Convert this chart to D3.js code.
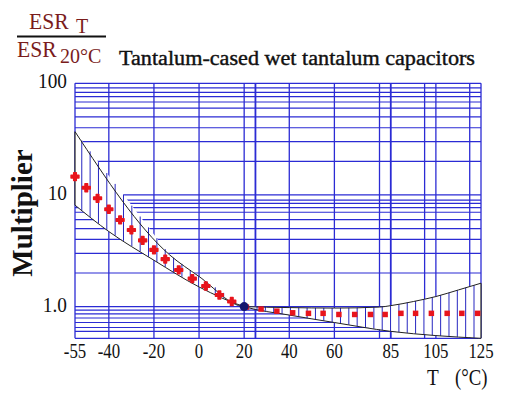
<!DOCTYPE html>
<html>
<head>
<meta charset="utf-8">
<script src="https://cdn.jsdelivr.net/npm/d3@7"></script>
<style>
  body { margin: 0; background: #fff; }
  svg { display: block; }
</style>
</head>
<body>
<div id="chart"></div>
<script>
// temperature ticks and grid
var xTicks = [-55, -40, -20, 0, 20, 40, 60, 85, 105, 125];
var xGrid = [-55, -40, -20, 0, 20, 25, 40, 60, 80, 85, 100, 105, 120, 125];
var yTicks = [100, 10, 1];
var yTickLabels = ["100", "10", "1.0"];
var yGrid = [100, 91, 83, 76, 68, 60, 50, 40, 30, 20,
             10, 9, 8.4, 7.7, 7, 6, 5, 4, 3, 2, 1,
             0.93, 0.86, 0.79, 0.72, 0.65, 0.6, 0.52];

// tolerance band (upper / lower limits)
var upperT = [-55, -13, 0, 20, 40, 60, 80, 85, 95, 105, 115, 125];
var upperV = [36.9, 2.9, 1.86, 1.0, 0.98, 0.97, 0.99, 1.02, 1.11, 1.23, 1.41, 1.62];
var lowerT = [-55, -40, -20, 0, 20, 40, 60, 85, 105, 125];
var lowerV = [8.1, 4.7, 2.6, 1.5, 1.0, 0.84, 0.72, 0.6, 0.55, 0.52];

// typical values (red dots)
var typT = [-55, -50, -45, -40, -35, -30, -25, -20, -15, -9, -3, 3, 9, 14.5,
            21, 27.5, 34.5, 41.5, 48.5, 55, 62, 69, 76, 82.5, 89.5, 96, 103, 110, 116.5, 123.5];
var typV = [14.6, 11.6, 9.33, 7.44, 5.97, 4.86, 3.92, 3.22, 2.66, 2.13, 1.78, 1.53, 1.27, 1.11,
            0.99, 0.95, 0.91, 0.88, 0.87, 0.87, 0.85, 0.85, 0.85, 0.85, 0.87, 0.87, 0.87, 0.87, 0.87, 0.87];

var width = 512, height = 394;
var gridColor = "#2b2bd4";
var serif = "'Liberation Serif', 'Times New Roman', serif";

var svg = d3.select("#chart").append("svg")
  .attr("width", width)
  .attr("height", height);

var x = d3.scaleLinear().domain([-55, 125]).range([75, 481]);
var y = d3.scaleLog().domain([0.52, 100]).range([338.3, 83.3]);

// grid
svg.append("g").selectAll("line")
  .data(yGrid)
  .enter().append("line")
  .attr("x1", x(-55)).attr("x2", x(125))
  .attr("y1", function(d) { return y(d); })
  .attr("y2", function(d) { return y(d); })
  .style("stroke", gridColor)
  .style("stroke-width", 1.2);

svg.append("g").selectAll("line")
  .data(xGrid)
  .enter().append("line")
  .attr("y1", y(100)).attr("y2", y(0.52))
  .attr("x1", function(d) { return x(d); })
  .attr("x2", function(d) { return x(d); })
  .style("stroke", gridColor)
  .style("stroke-width", function(d) { return (d == 25 || d == 85) ? 1.8 : 1.3; });

// band: white fill, hatch, outline
var upperFn = d3.scaleLinear().domain(upperT).range(upperT.map(function(t, i) { return Math.log10(upperV[i]); }));
var lowerFn = d3.scaleLinear().domain(lowerT).range(lowerT.map(function(t, i) { return Math.log10(lowerV[i]); }));

var samples = d3.range(-55, 125.01, 0.5);
var area = d3.area()
  .x(function(d) { return x(d); })
  .y0(function(d) { return y(Math.pow(10, lowerFn(d))); })
  .y1(function(d) { return y(Math.pow(10, upperFn(d))); });

svg.append("path")
  .datum(samples)
  .attr("d", area)
  .style("fill", "#fff");

var hatch = d3.range(-52, 125, 3.7);
svg.append("g").selectAll("line")
  .data(hatch)
  .enter().append("line")
  .attr("x1", function(d) { return x(d); })
  .attr("x2", function(d) { return x(d); })
  .attr("y1", function(d) { return y(Math.pow(10, lowerFn(d))); })
  .attr("y2", function(d) { return y(Math.pow(10, upperFn(d))); })
  .style("stroke", "#2626c0")
  .style("stroke-width", 1);

var upperLine = d3.line()
  .x(function(d, i) { return x(upperT[i]); })
  .y(function(d) { return y(d); })
  .curve(d3.curveMonotoneX);
var lowerLine = d3.line()
  .x(function(d, i) { return x(lowerT[i]); })
  .y(function(d) { return y(d); })
  .curve(d3.curveMonotoneX);

svg.append("path").datum(upperV).attr("d", upperLine)
  .style("fill", "none").style("stroke", "#222").style("stroke-width", 1);
svg.append("path").datum(lowerV).attr("d", lowerLine)
  .style("fill", "none").style("stroke", "#222").style("stroke-width", 1);
svg.append("line")
  .attr("x1", x(-55)).attr("x2", x(-55))
  .attr("y1", y(lowerV[0])).attr("y2", y(upperV[0]))
  .style("stroke", "#222").style("stroke-width", 1.2);
svg.append("line")
  .attr("x1", x(125)).attr("x2", x(125))
  .attr("y1", y(lowerV[lowerV.length - 1])).attr("y2", y(upperV[upperV.length - 1]))
  .style("stroke", "#222").style("stroke-width", 1.2);

// typical points
svg.append("g").selectAll("path")
  .data(typT)
  .enter().append("path")
  .attr("transform", function(d, i) { return "translate(" + x(d) + "," + y(typV[i]) + ")"; })
  .attr("d", function(d) {
    return d < 20 ? d3.symbol().type(d3.symbolCross).size(34)()
                  : d3.symbol().type(d3.symbolSquare).size(30)();
  })
  .style("fill", "#e8141c")
  .style("stroke", "#e8141c")
  .style("stroke-width", function(d) { return d < 20 ? 1.5 : 0; })
  .style("stroke-linejoin", "round");

svg.append("circle")
  .attr("cx", x(20)).attr("cy", y(1))
  .attr("r", 4.5)
  .style("fill", "#14146e");

// axis labels (the scan's lettering is narrow, so squeeze horizontally)
svg.append("g").selectAll("text")
  .data(xTicks)
  .enter().append("text")
  .attr("transform", function(d) { return "translate(" + x(d) + ",358) scale(0.84,1)"; })
  .attr("text-anchor", "middle")
  .style("font-family", serif)
  .style("font-size", "20px")
  .style("fill", "#111")
  .text(function(d) { return d; });

svg.append("g").selectAll("text")
  .data(yTicks)
  .enter().append("text")
  .attr("transform", function(d) { return "translate(67," + (y(d) + 5) + ") scale(0.92,1)"; })
  .attr("text-anchor", "end")
  .style("font-family", serif)
  .style("font-size", "21px")
  .style("fill", "#111")
  .text(function(d, i) { return yTickLabels[i]; });

svg.append("text")
  .attr("transform", "translate(32,213) rotate(-90)")
  .attr("text-anchor", "middle")
  .style("font-family", serif)
  .style("font-size", "29px")
  .style("font-weight", "bold")
  .style("fill", "#111")
  .text("Multiplier");

svg.append("text")
  .attr("transform", "translate(427,384.5) scale(0.8,1)")
  .style("font-family", serif)
  .style("font-size", "24px")
  .style("fill", "#111")
  .text("T");
svg.append("text")
  .attr("transform", "translate(455,384.5) scale(0.78,1)")
  .style("font-family", serif)
  .style("font-size", "24px")
  .style("fill", "#111")
  .text("(°C)");

// title
svg.append("text")
  .attr("x", 119).attr("y", 65)
  .attr("textLength", 356)
  .attr("lengthAdjust", "spacingAndGlyphs")
  .style("font-family", serif)
  .style("font-size", "20px")
  .style("fill", "#111")
  .style("stroke", "#111")
  .style("stroke-width", 0.4)
  .text("Tantalum-cased wet tantalum capacitors");

// ESR_T / ESR_20°C
var esrColor = "#7a1c1c";
svg.append("text")
  .attr("transform", "translate(29,28.5) scale(0.9,1)")
  .style("font-family", serif)
  .style("font-size", "24px").style("fill", esrColor)
  .text("ESR");
svg.append("text")
  .attr("x", 76).attr("y", 33)
  .style("font-family", serif)
  .style("font-size", "20px").style("fill", esrColor)
  .text("T");
svg.append("line")
  .attr("x1", 17).attr("x2", 106)
  .attr("y1", 36.5).attr("y2", 36.5)
  .style("stroke", "#111").style("stroke-width", 2);
svg.append("text")
  .attr("transform", "translate(17,57.3) scale(0.9,1)")
  .style("font-family", serif)
  .style("font-size", "24px").style("fill", esrColor)
  .text("ESR");
svg.append("text")
  .attr("x", 60).attr("y", 63.3)
  .style("font-family", serif)
  .style("font-size", "20px").style("fill", esrColor)
  .text("20°C");
</script>
</body>
</html>
